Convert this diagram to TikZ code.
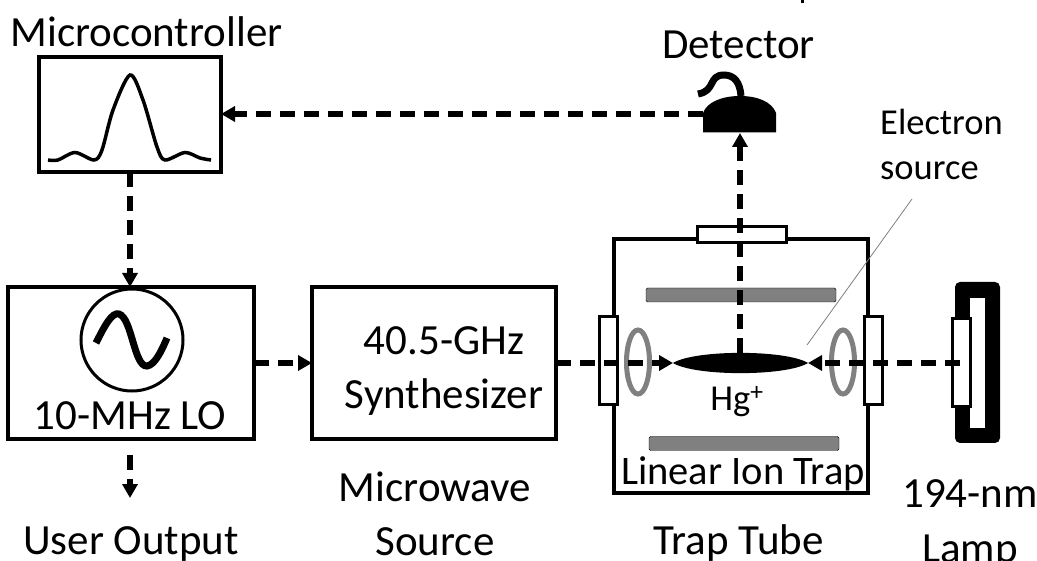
\documentclass[tikz,border=0pt]{standalone}
\usepackage{fontspec}
\setmainfont{Carlito}
\usetikzlibrary{positioning,arrows.meta}

\tikzset{
  block/.style={draw=black,line width=3.8pt,fill=white,inner sep=0pt,outer sep=0pt},
  window/.style={block,line width=3pt},
  rod/.style={fill=black!50,rounded corners=1.5pt},
  ring/.style={draw=black!50,line width=5pt},
  beam/.style={line width=5.5pt,dash pattern=on 15pt off 9pt,-{Triangle[length=14pt,width=15pt]}},
  lbl/.style={inner sep=0pt,anchor=base,font=\fontsize{43}{54}\selectfont},
  traplbl/.style={lbl,font=\fontsize{40.5}{54}\selectfont},
  smalllbl/.style={inner sep=0pt,anchor=base,font=\fontsize{36.5}{45}\selectfont}
}

\begin{document}
\begin{tikzpicture}[y=-1pt, x=1pt]
\useasboundingbox (0,0) rectangle (1037,561);

% boxes
\node[block,minimum width=182pt,minimum height=115pt] (micro) at (130,114.5) {};
\node[block,minimum width=246pt,minimum height=152pt] (lo) at (131,363) {};
\node[block,minimum width=244pt,minimum height=152pt] (synth) at (434,363) {};
\node[block,minimum width=254pt,minimum height=254pt] (tube) at (741,366) {};

% trap inside
\filldraw[rod] (646,288) rectangle (836,302);
\filldraw[rod] (649,436.5) rectangle (839,450.5);
\draw[ring] (638,362) ellipse (11.5pt and 32pt);
\draw[ring] (843,362) ellipse (11.5pt and 32pt);
\node[window,minimum width=89pt,minimum height=16pt] (topwin) at (741.5,234.5) {};
\node[window,minimum width=18pt,minimum height=88pt] (leftwin) at (608,361) {};
\node[window,minimum width=18pt,minimum height=88pt] (rightwin) at (873,361) {};

% ion cloud
\coordinate (ionl) at (673,363);
\coordinate (ionr) at (808,363);
\coordinate (iont) at (740,353);
\fill (ionl) .. controls (695,349.5) and (786,349.5) .. (ionr) .. controls (786,376.5) and (695,376.5) .. (ionl);

% lamp
\fill[rounded corners=5pt] (955,282) rectangle (1000,443);
\fill[white] (970,298) rectangle (985,428);
\node[window,minimum width=18pt,minimum height=88pt] (lampwin) at (961,363) {};
\coordinate (lampin) at (960,363);

% detector
\coordinate (detl) at (703,114);
\coordinate (detb) at (740,133);
\fill (703,132.5) -- (703,113) .. controls (707,102) and (722,96) .. (740,96) .. controls (758,96) and (772,102) .. (776,113) -- (776,132.5) -- cycle;
\draw[line width=7pt] (741,96) .. controls (740,82) and (734,75) .. (724,75) .. controls (708,75) and (716,91) .. (698,94);

% peak
\draw[line width=3.5pt] plot[smooth] coordinates {(48,160) (58,160) (75,152.5) (94,160) (102,150) (113,110) (130,75) (143,100) (157,147) (165,160) (185,152.5) (200,158) (211,160)};

% oscillator
\draw[line width=3pt] (132,340) circle (51pt);
\draw[line width=7pt] (96,343) .. controls (105,325) and (112,312) .. (119,314) .. controls (132,318) and (134,367) .. (147,366) .. controls (155,365) and (162,350) .. (167,338);
\draw[line width=3pt] (802,0) -- (802,3);

% connectors
\coordinate (outa) at (130,455);
\coordinate (outb) at (130,498);
\draw[beam] (micro.south) -- (micro.south |- lo.north);
\draw[beam] (lo.east) -- (synth.west);
\draw[beam] (outa) -- (outb);
\draw[beam] (synth.east) -- (ionl);
\draw[beam] (lampin) -- (ionr);
\draw[beam] (iont) -- (detb);
\draw[beam] (detl) -- (micro.east |- detl);
\draw[black!50,line width=.8pt] (912,199) -- (807,345);

% labels
\node[lbl] (microlbl) at (146.5,47) {Microcontroller};
\node[lbl] (detlbl) at (738.5,59) {Detector};
\node[lbl] (lolbl) at (130,430) {10-MHz LO};
\node[lbl] (synthlbl) at (444,408.5) {\begin{tabular}[b]{@{}c@{}}40.5-GHz\\Synthesizer\end{tabular}};
\node[lbl] (useroutlbl) at (131,554) {User Output};
\node[lbl] (sourcelbl) at (435,555) {\begin{tabular}[b]{@{}c@{}}Microwave\\Source\end{tabular}};
\node[lbl] (tubelbl) at (738.5,554) {Trap Tube};
\node[lbl,font=\fontsize{43}{55}\selectfont] (lamplbl) at (970,562) {\begin{tabular}[b]{@{}c@{}}194-nm\\Lamp\end{tabular}};
\node[traplbl] (traplbl) at (743,484) {Linear Ion Trap};
\node[smalllbl] (hglbl) at (737,410) {Hg\textsuperscript{+}};
\node[smalllbl,anchor=base west] (elbl) at (880,179.5) {\begin{tabular}[b]{@{}l@{}}Electron\\source\end{tabular}};
\end{tikzpicture}
\end{document}
